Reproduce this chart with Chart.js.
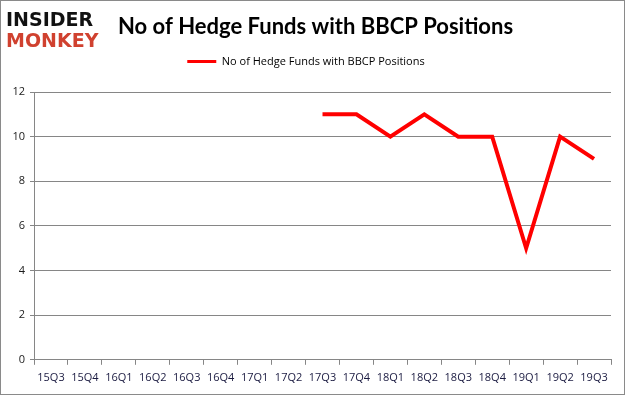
<!DOCTYPE html>
<html>
<head>
<meta charset="utf-8">
<script src="https://cdn.jsdelivr.net/npm/chart.js@4"></script>
<style>
    html, body { margin: 0; padding: 0; background: #fff; }
    #wrap {
        position: relative;
        width: 623px;
        height: 393px;
        border: 1px solid #8a8a8a;
    }
</style>
</head>
<body>
<div id="wrap"><canvas id="hedgeChart" width="623" height="393"></canvas></div>
<script>
// Quarters shown on the x axis
const quarters = ['15Q3', '15Q4', '16Q1', '16Q2', '16Q3', '16Q4', '17Q1', '17Q2', '17Q3',
    '17Q4', '18Q1', '18Q2', '18Q3', '18Q4', '19Q1', '19Q2', '19Q3'];

// Number of hedge funds holding BBCP (no data before 17Q3)
const fundCounts = [null, null, null, null, null, null, null, null, 11,
    11, 10, 11, 10, 10, 5, 10, 9];

// Y axis ticks
const yTicks = [0, 2, 4, 6, 8, 10, 12];

const seriesLabel = 'No of Hedge Funds with BBCP Positions';
const gridColor = '#868686';
const labelFont = { family: 'Open Sans', size: 11 };

// Draws the logo and the title above the chart
const headerPlugin = {
    id: 'header',
    afterDraw(chart) {
        const ctx = chart.ctx;
        ctx.save();
        ctx.textBaseline = 'alphabetic';
        ctx.textAlign = 'left';
        ctx.font = 'bold 19px "DejaVu Sans"';
        ctx.fillStyle = '#111111';
        ctx.fillText('INSIDER', 5, 25);
        ctx.fillStyle = '#d0412f';
        ctx.fillText('MONKEY', 5, 46);

        ctx.fillStyle = '#000000';
        ctx.font = 'bold 22px "Lato"';
        ctx.fillText('No of Hedge Funds with BBCP Positions', 117, 33);
        ctx.restore();
    }
};

// Adds some space below the legend
const legendGapPlugin = {
    id: 'legendGap',
    beforeInit(chart) {
        const origFit = chart.legend.fit;
        chart.legend.fit = function () {
            origFit.bind(chart.legend)();
            this.height += 15;
        };
    }
};

const ctx = document.getElementById('hedgeChart').getContext('2d');

const chart = new Chart(ctx, {
    type: 'line',
    data: {
        labels: quarters,
        datasets: [{
            label: seriesLabel,
            data: fundCounts,
            borderColor: '#ff0000',
            backgroundColor: '#ff0000',
            borderWidth: 4,
            pointRadius: 0,
            fill: false,
            tension: 0,
            spanGaps: false
        }]
    },
    options: {
        responsive: false,
        animation: false,
        layout: {
            padding: { top: 50, right: 13, left: 0, bottom: 4 }
        },
        plugins: {
            legend: {
                position: 'top',
                labels: {
                    boxWidth: 29,
                    boxHeight: 3,
                    color: '#222222',
                    font: labelFont,
                    padding: 5,
                    generateLabels: () => [{
                        text: seriesLabel,
                        fillStyle: '#ff0000',
                        strokeStyle: '#ff0000',
                        lineWidth: 0
                    }]
                }
            },
            tooltip: { enabled: false }
        },
        scales: {
            x: {
                offset: true,
                grid: {
                    display: true,
                    drawOnChartArea: false,
                    drawTicks: true,
                    tickLength: 5,
                    color: gridColor,
                    offset: true
                },
                border: { color: gridColor, width: 1 },
                ticks: {
                    color: '#1a1a40',
                    font: labelFont,
                    maxRotation: 0,
                    autoSkip: false,
                    padding: 6
                }
            },
            y: {
                min: 0,
                max: 12,
                afterBuildTicks: scale => {
                    scale.ticks = yTicks.map(v => ({ value: v }));
                },
                afterFit: scale => {
                    scale.width = 33;
                },
                grid: {
                    color: gridColor,
                    tickLength: 4
                },
                border: { color: gridColor, width: 1 },
                ticks: {
                    color: '#1a1a1a',
                    font: labelFont,
                    padding: 5
                }
            }
        }
    },
    plugins: [legendGapPlugin, headerPlugin]
});
</script>
</body>
</html>
